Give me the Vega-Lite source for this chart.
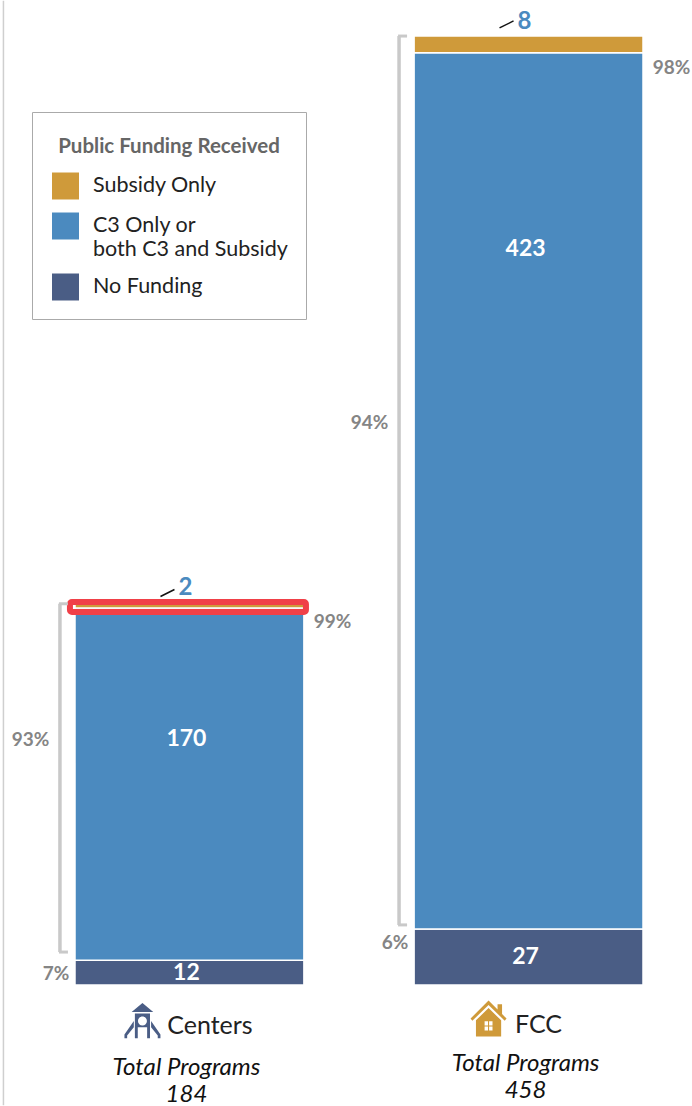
{
"$schema":"https://vega.github.io/schema/vega-lite/v6.json",
"width":692,"height":1106,"autosize":{"type":"none"},"padding":0,"background":"white",
"config":{"view":{"stroke":null},"text":{"font":"Lato"}},
"datasets":{
"bars":[
{"program":"Centers","funding":"No Funding","count":12,"rank":1},
{"program":"Centers","funding":"C3 Only or both C3 and Subsidy","count":170,"rank":2},
{"program":"Centers","funding":"Subsidy Only","count":2,"rank":3},
{"program":"FCC","funding":"No Funding","count":27,"rank":1},
{"program":"FCC","funding":"C3 Only or both C3 and Subsidy","count":423,"rank":2},
{"program":"FCC","funding":"Subsidy Only","count":8,"rank":3}],
"notes":[
{"kind":"inbar","program":"Centers","text":"170","value":118.7},
{"kind":"inbar","program":"Centers","text":"12","value":5.8},
{"kind":"inbar","program":"FCC","text":"423","value":355.2},
{"kind":"inbar","program":"FCC","text":"27","value":13.5},
{"kind":"small","program":"Centers","text":"2","value":191.6},
{"kind":"small","program":"FCC","text":"8","value":464.8},
{"kind":"leader","program":"Centers","value":189.2},
{"kind":"leader","program":"FCC","value":463.6},
{"kind":"pctBracket","program":"Centers","text":"93%","value":118.2},
{"kind":"pctBracket","program":"FCC","text":"94%","value":271.2},
{"kind":"pctBase","program":"Centers","text":"7%","value":5.3},
{"kind":"pctBase","program":"FCC","text":"6%","value":20.3},
{"kind":"pctRight","program":"Centers","text":"99%","value":175.2},
{"kind":"pctRight","program":"FCC","text":"98%","value":442.6},
{"kind":"bracket","program":"Centers","value":184,"value2":15.9},
{"kind":"bracket","program":"FCC","value":458,"value2":29},
{"kind":"highlight","program":"Centers","value":184.8,"value2":180},
{"kind":"total","program":"Centers","text":"Total Programs","value":-40.3},
{"kind":"total","program":"Centers","text":"184","value":-53},
{"kind":"total","program":"FCC","text":"Total Programs","value":-37.9},
{"kind":"total","program":"FCC","text":"458","value":-51.2},
{"kind":"nameCenters","program":"Centers","text":"Centers","value":-19.8},
{"kind":"nameFCC","program":"FCC","text":"FCC","value":-19.3},
{"kind":"iconCenters","program":"Centers","value":-17.4},
{"kind":"iconFCC","program":"FCC","value":-16.2},
{"kind":"edge","program":"Centers","value":475,"value2":-58}
]},
"encoding":{
"x":{"field":"program","type":"nominal","axis":null,"scale":{"type":"band","domain":["Centers","FCC"],"range":[75,643],"paddingInner":0.325,"paddingOuter":0}}
},
"layer":[
{"data":{"name":"notes"},"transform":[{"filter":"datum.kind=='edge'"}],
 "mark":{"type":"rule","color":"#cfcfcf","strokeWidth":1.5,"xOffset":-186},
 "encoding":{"y":{"field":"value","type":"quantitative","axis":null,"scale":{"domain":[-58.4,475.4],"nice":false,"zero":false}},"y2":{"field":"value2"}}},
{"data":{"name":"bars"},
 "mark":{"type":"bar","stroke":"white","strokeWidth":1.5},
 "encoding":{
  "y":{"field":"count","type":"quantitative","stack":"zero","axis":null},
  "order":{"field":"rank"},
  "color":{"field":"funding","type":"nominal","sort":null,
   "scale":{"domain":["Subsidy Only","C3 Only or both C3 and Subsidy","No Funding"],"range":["#CF9A3A","#4B8ABF","#4A5D85"]},
   "legend":{"orient":"none","legendX":32,"legendY":112,"title":"Public Funding Received","titleFont":"Lato","titleFontSize":20.5,"titleFontWeight":"bold","titleColor":"#666666","titleAnchor":"middle","titlePadding":22,"titleLimit":400,"titleBaseline":"line-top","titleLineHeight":34,
    "labelFont":"Lato","labelFontSize":21.5,"labelColor":"#222222","labelLimit":260,"labelOffset":14,
    "labelExpr":"datum.label=='C3 Only or both C3 and Subsidy'?['C3 Only or','both C3 and Subsidy']:datum.label",
    "symbolType":"square","symbolSize":729,"symbolStrokeWidth":0,"symbolOffset":2,"rowPadding":13,
    "padding":18,"strokeColor":"#aaaaaa","fillColor":"white",
    "encode":{"legend":{"update":{"strokeWidth":{"value":2}}}}}}}},
{"data":{"name":"notes"},"transform":[{"filter":"datum.kind=='highlight'"}],
 "mark":{"type":"bar","width":236,"fill":null,"stroke":"#F04048","strokeWidth":6,"cornerRadius":2,"xOffset":-1.5},
 "encoding":{"y":{"field":"value","type":"quantitative"},"y2":{"field":"value2"}}},
{"data":{"name":"notes"},"transform":[{"filter":"datum.kind=='bracket'"}],
 "mark":{"type":"rule","color":"#c9c9c9","strokeWidth":3.5,"xOffset":-129.5},
 "encoding":{"y":{"field":"value","type":"quantitative"},"y2":{"field":"value2"}}},
{"data":{"name":"notes"},"transform":[{"filter":"datum.kind=='bracket'"}],
 "mark":{"type":"tick","orient":"horizontal","color":"#c9c9c9","size":9,"thickness":3,"opacity":1,"xOffset":-126},
 "encoding":{"y":{"field":"value","type":"quantitative"}}},
{"data":{"name":"notes"},"transform":[{"filter":"datum.kind=='bracket'"}],
 "mark":{"type":"tick","orient":"horizontal","color":"#c9c9c9","size":9,"thickness":3,"opacity":1,"xOffset":-126},
 "encoding":{"y":{"field":"value2","type":"quantitative"}}},
{"data":{"name":"notes"},"transform":[{"filter":"datum.kind=='inbar'"}],
 "mark":{"type":"text","font":"Lato","fontWeight":"bold","fontSize":23,"color":"white","baseline":"middle","xOffset":-3},
 "encoding":{"y":{"field":"value","type":"quantitative"},"text":{"field":"text"}}},
{"data":{"name":"notes"},"transform":[{"filter":"datum.kind=='small'"}],
 "mark":{"type":"text","font":"Lato","fontWeight":"bold","fontSize":24,"color":"#4B8ABF","baseline":"middle","xOffset":-4},
 "encoding":{"y":{"field":"value","type":"quantitative"},"text":{"field":"text"}}},
{"data":{"name":"notes"},"transform":[{"filter":"datum.kind=='leader'"}],
 "mark":{"type":"point","shape":"M-1,0.5L1,-0.5","size":196,"filled":false,"stroke":"#111111","strokeWidth":1.5,"opacity":1,"xOffset":-22},
 "encoding":{"y":{"field":"value","type":"quantitative"}}},
{"data":{"name":"notes"},"transform":[{"filter":"datum.kind=='pctBracket'"}],
 "mark":{"type":"text","font":"Lato","fontSize":19,"fontWeight":"bold","color":"#858585","baseline":"middle","xOffset":-159},
 "encoding":{"y":{"field":"value","type":"quantitative"},"text":{"field":"text"}}},
{"data":{"name":"notes"},"transform":[{"filter":"datum.kind=='pctBase'"}],
 "mark":{"type":"text","font":"Lato","fontSize":19,"fontWeight":"bold","color":"#858585","baseline":"middle","xOffset":-133.5},
 "encoding":{"y":{"field":"value","type":"quantitative"},"text":{"field":"text"}}},
{"data":{"name":"notes"},"transform":[{"filter":"datum.kind=='pctRight'"}],
 "mark":{"type":"text","font":"Lato","fontSize":19,"fontWeight":"bold","color":"#858585","baseline":"middle","xOffset":143},
 "encoding":{"y":{"field":"value","type":"quantitative"},"text":{"field":"text"}}},
{"data":{"name":"notes"},"transform":[{"filter":"datum.kind=='total'"}],
 "mark":{"type":"text","font":"Lato","fontStyle":"italic","fontSize":24,"color":"#111111","baseline":"middle","xOffset":-3},
 "encoding":{"y":{"field":"value","type":"quantitative"},"text":{"field":"text"}}},
{"data":{"name":"notes"},"transform":[{"filter":"datum.kind=='nameCenters'"}],
 "mark":{"type":"text","font":"Lato","fontSize":25,"color":"#222222","baseline":"middle","xOffset":20.5},
 "encoding":{"y":{"field":"value","type":"quantitative"},"text":{"field":"text"}}},
{"data":{"name":"notes"},"transform":[{"filter":"datum.kind=='nameFCC'"}],
 "mark":{"type":"text","font":"Lato","fontSize":25,"color":"#222222","baseline":"middle","xOffset":10},
 "encoding":{"y":{"field":"value","type":"quantitative"},"text":{"field":"text"}}},
{"data":{"name":"notes"},"transform":[{"filter":"datum.kind=='iconCenters'"}],
 "mark":{"type":"point","filled":true,"fill":"#4A5D85","stroke":null,"opacity":1,"size":1296,"xOffset":-47,
  "shape":"M-.6,-.5L0,-1L.6,-.5ZM-.42,-.42H.42V.95H.26V.35H-.26V.95H-.42ZM0,-.25A.25,.25 0 1 0 0,.25A.25,.25 0 1 0 0,-.25ZM-.48,0L-1,.75V.95H-.85V.8L-.48,.35ZM.48,0L1,.75V.95H.85V.8L.48,.35Z"},
 "encoding":{"y":{"field":"value","type":"quantitative"}}},
{"data":{"name":"notes"},"transform":[{"filter":"datum.kind=='iconFCC'"}],
 "mark":{"type":"point","filled":true,"fill":"#CF9A3A","stroke":null,"opacity":1,"size":1296,"xOffset":-40,
  "shape":"M-1,0L0,-1L.5,-.5V-.8H.75V-.25L1,0L.9,.12L0,-.75L-.9,.12ZM-.7,.1L0,-.58L.7,.1V1H-.7ZM-.22,.15V.38H-.03V.15ZM.03,.15V.38H.22V.15ZM-.22,.44V.67H-.03V.44ZM.03,.44V.67H.22V.44Z"},
 "encoding":{"y":{"field":"value","type":"quantitative"}}}
]
}
